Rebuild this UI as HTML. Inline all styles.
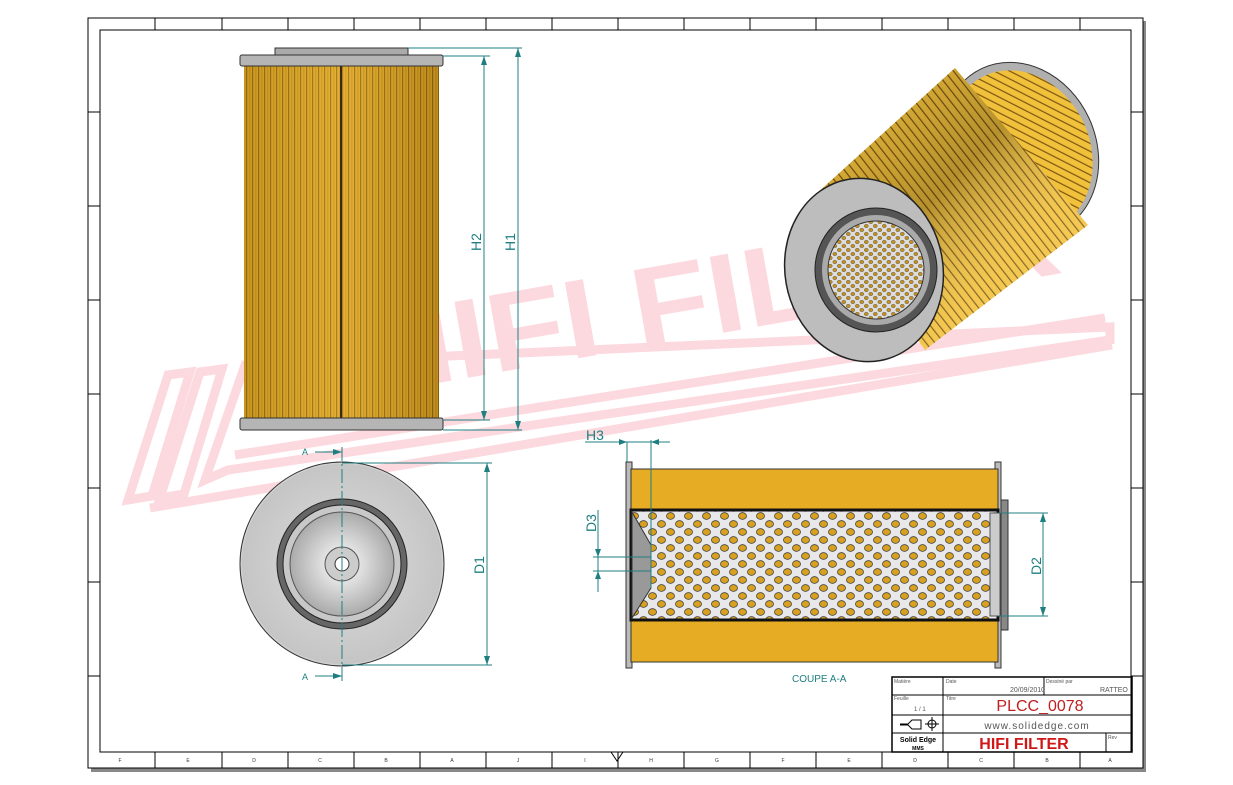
<!DOCTYPE html>
<html><head><style>body{margin:0;background:#fff}svg{display:block}text{font-family:"Liberation Sans",sans-serif}</style></head><body>
<svg width="1233" height="785" viewBox="0 0 1233 785">
<defs>
<pattern id="pl" width="6" height="10" patternUnits="userSpaceOnUse"><rect width="6" height="10" fill="#d9a52a"/><rect x="0" width="1.2" height="10" fill="#6b4a10"/><rect x="3" width="1.5" height="10" fill="#c08a1a"/></pattern>
<pattern id="pf" width="18" height="16" patternUnits="userSpaceOnUse"><rect width="18" height="16" fill="#e8e8ea"/><ellipse cx="4.5" cy="4" rx="4" ry="3.4" fill="#d8a020" stroke="#333" stroke-width=".7"/><ellipse cx="13.5" cy="12" rx="4" ry="3.4" fill="#d8a020" stroke="#333" stroke-width=".7"/></pattern>
<pattern id="pf2" width="9" height="8" patternUnits="userSpaceOnUse"><rect width="9" height="8" fill="#ddd"/><ellipse cx="2.3" cy="2" rx="2" ry="1.7" fill="#c8901a" stroke="#444" stroke-width=".4"/><ellipse cx="6.8" cy="6" rx="2" ry="1.7" fill="#c8901a" stroke="#444" stroke-width=".4"/></pattern>
<radialGradient id="mg" cx="0.5" cy="0.5" r="0.6"><stop offset="0" stop-color="#fff"/><stop offset="1" stop-color="#9a9a9a"/></radialGradient>
<linearGradient id="py" x1="0" x2="1"><stop offset="0" stop-color="#b88a18"/><stop offset=".5" stop-color="#f3c040"/><stop offset="1" stop-color="#a07010"/></linearGradient>
<pattern id="pl2" width="7" height="10" patternUnits="userSpaceOnUse" patternTransform="rotate(-38)"><rect width="7" height="10" fill="#f2c13c"/><rect width="1.2" height="10" fill="#7a5510"/></pattern>
<linearGradient id="bg3" x1="0" y1="0" x2="1" y2="1"><stop offset="0" stop-color="#000" stop-opacity=".0"/><stop offset=".45" stop-color="#000" stop-opacity=".25"/><stop offset=".7" stop-color="#fff" stop-opacity=".1"/><stop offset="1" stop-color="#fff" stop-opacity=".2"/></linearGradient>
</defs>
<rect x="91" y="21" width="1055" height="751" fill="#888"/>
<rect x="88" y="18" width="1055" height="750" fill="#fff" stroke="#000"/>
<rect x="100" y="30" width="1031" height="722" fill="none" stroke="#000"/>
<g stroke="#000" stroke-width="1">
<path d="M155 18v12M222 18v12M288 18v12M354 18v12M420 18v12M486 18v12M552 18v12M618 18v12M684 18v12M750 18v12M816 18v12M882 18v12M948 18v12M1014 18v12M1080 18v12"/>
<path d="M155 752v16M222 752v16M288 752v16M354 752v16M420 752v16M486 752v16M552 752v16M618 752v16M684 752v16M750 752v16M816 752v16M882 752v16M948 752v16M1014 752v16M1080 752v16"/>
<path d="M88 112h12M88 206h12M88 300h12M88 394h12M88 488h12M88 582h12M88 676h12M1131 112h12M1131 206h12M1131 300h12M1131 394h12M1131 488h12M1131 582h12M1131 676h12"/>
</g>
<g font-size="5" fill="#333" text-anchor="middle">
<text x="120" y="762">F</text><text x="188" y="762">E</text><text x="254" y="762">D</text><text x="320" y="762">C</text><text x="386" y="762">B</text><text x="452" y="762">A</text><text x="518" y="762">J</text><text x="585" y="762">I</text><text x="651" y="762">H</text><text x="717" y="762">G</text><text x="783" y="762">F</text><text x="849" y="762">E</text><text x="915" y="762">D</text><text x="981" y="762">C</text><text x="1047" y="762">B</text><text x="1110" y="762">A</text>
</g>
<path d="M611 752l6 9 6-9z" fill="none" stroke="#000"/>
<g fill="none" stroke="#fcd9df" stroke-width="9">
<polygon points="128,500 168,375 190,372 152,496"/>
<polygon points="160,498 200,372 222,369 184,494"/>
<polygon points="205,480 245,365 1110,327 1110,340 228,470"/>
<line x1="235" y1="455" x2="1105" y2="318"/>
<line x1="150" y1="508" x2="1112" y2="345"/>
</g>
<text x="370" y="395" font-size="112" font-weight="bold" font-family="Liberation Serif" transform="rotate(-10 370 395)" textLength="705" lengthAdjust="spacingAndGlyphs" fill="#fcd9df">HIFI FILTER</text>
<rect x="275" y="48" width="133" height="8" fill="#aaa" stroke="#333"/>
<rect x="244" y="66" width="195" height="352" fill="url(#pl)"/>
<rect x="244" y="66" width="195" height="352" fill="url(#py)" opacity=".45"/>
<line x1="341" y1="66" x2="341" y2="418" stroke="#3a2a05" stroke-width="2"/>
<rect x="240" y="55" width="203" height="11" rx="2" fill="#b5b5b5" stroke="#333"/>
<rect x="240" y="418" width="203" height="12" rx="2" fill="#b5b5b5" stroke="#333"/>
<g stroke="#1f7f80" fill="#1f7f80">
<line x1="408" y1="48" x2="522" y2="48"/><line x1="443" y1="430" x2="522" y2="430"/><line x1="443" y1="56" x2="490" y2="56"/><line x1="443" y1="420" x2="490" y2="420"/>
<line x1="518" y1="48" x2="518" y2="430"/><line x1="484" y1="56" x2="484" y2="420"/>
<path d="M518 48l-3 9h6zM518 430l-3-9h6zM484 56l-3 9h6zM484 420l-3-9h6z" stroke="none"/>
</g>
<g fill="#1f7f80" font-size="14"><text transform="translate(481 251) rotate(-90)">H2</text><text transform="translate(515 251) rotate(-90)">H1</text></g>
<circle cx="342" cy="564" r="102" fill="#d0d0d0" stroke="#333"/>
<circle cx="342" cy="564" r="100" fill="url(#mg)" opacity=".3"/>
<circle cx="342" cy="564" r="65" fill="#666" stroke="#222"/>
<circle cx="342" cy="564" r="59" fill="#c8c8c8" stroke="#222"/>
<circle cx="342" cy="564" r="52" fill="url(#mg)" stroke="#555"/>
<circle cx="342" cy="564" r="17" fill="#ccc" stroke="#555"/>
<circle cx="342" cy="564" r="7" fill="#fff" stroke="#333"/>
<g stroke="#1f7f80" fill="#1f7f80">
<line x1="342" y1="447" x2="342" y2="682" stroke-dasharray="14 3 2 3"/>
<line x1="315" y1="452" x2="342" y2="452"/><line x1="315" y1="676" x2="342" y2="676"/>
<path d="M342 452l-9-3v6zM342 676l-9-3v6z" stroke="none"/>
<line x1="342" y1="463" x2="492" y2="463"/><line x1="342" y1="665" x2="492" y2="665"/><line x1="487" y1="463" x2="487" y2="665"/>
<path d="M487 463l-3 9h6zM487 665l-3-9h6z" stroke="none"/>
</g>
<g fill="#1f7f80" font-size="9"><text x="302" y="455">A</text><text x="302" y="680">A</text></g>
<text transform="translate(484 574) rotate(-90)" fill="#1f7f80" font-size="14">D1</text>
<rect x="626" y="462" width="6" height="206" fill="#bbb" stroke="#333"/>
<rect x="995" y="462" width="6" height="206" fill="#bbb" stroke="#333"/>
<rect x="1001" y="500" width="7" height="130" fill="#888" stroke="#333"/>
<rect x="631" y="469" width="367" height="42" fill="#e6ad24" stroke="#333"/>
<rect x="631" y="619" width="367" height="43" fill="#e6ad24" stroke="#333"/>
<rect x="631" y="510" width="367" height="110" fill="url(#pf)"/>
<rect x="631" y="510" width="367" height="110" fill="none" stroke="#111" stroke-width="3"/>
<polygon points="632,512 651,545 651,588 632,618" fill="#999" stroke="#333"/>
<rect x="990" y="513" width="10" height="103" fill="#ccc" stroke="#555"/>
<g stroke="#1f7f80" fill="#1f7f80">
<line x1="627" y1="442" x2="627" y2="462"/><line x1="651" y1="440" x2="651" y2="588"/>
<line x1="585" y1="442" x2="670" y2="442"/><path d="M627 442l-8-3v6zM651 442l8-3v6z" stroke="none"/>
<line x1="593" y1="557" x2="651" y2="557"/><line x1="593" y1="571" x2="651" y2="571"/><line x1="598" y1="510" x2="598" y2="592"/>
<path d="M598 557l-3-8h6zM598 571l-3 8h6z" stroke="none"/>
<line x1="1000" y1="513" x2="1048" y2="513"/><line x1="1000" y1="616" x2="1048" y2="616"/><line x1="1043" y1="513" x2="1043" y2="616"/>
<path d="M1043 513l-3 9h6zM1043 616l-3-9h6z" stroke="none"/>
</g>
<g fill="#1f7f80" font-size="14"><text x="586" y="440">H3</text><text transform="translate(596 532) rotate(-90)">D3</text><text transform="translate(1041 575) rotate(-90)">D2</text></g>
<text x="792" y="682" fill="#1f7f80" font-size="10">COUPE A-A</text>
<ellipse cx="1020" cy="150" rx="76" ry="90" fill="#b0b0b0" stroke="#333" transform="rotate(-25 1020 150)"/>
<ellipse cx="1020" cy="152" rx="70" ry="84" fill="url(#pl2)" transform="rotate(-25 1020 152)"/>
<polygon points="815,195 955,68 1088,225 925,350" fill="url(#pl2)"/>
<polygon points="815,195 955,68 1088,225 925,350" fill="url(#bg3)"/>
<ellipse cx="864" cy="270" rx="79" ry="92" fill="#bdbdbd" stroke="#222" stroke-width="1.5" transform="rotate(-10 864 270)"/>
<ellipse cx="876" cy="270" rx="61" ry="62" fill="#555" stroke="#222"/>
<ellipse cx="876" cy="270" rx="54" ry="55" fill="#aaa"/>
<ellipse cx="876" cy="270" rx="48" ry="49" fill="url(#pf2)" stroke="#333"/>
<g stroke="#000" fill="none">
<rect x="892" y="677" width="240" height="75" stroke-width="1.5"/>
<path d="M892 695h240M892 715h240M892 733h240M943 677v75M1044 677v18M1106 733v19"/>
</g>
<g font-size="5" fill="#555"><text x="894" y="683">Matière</text><text x="946" y="683">Date</text><text x="1046" y="683">Dessiné par</text><text x="894" y="700">Feuille</text><text x="946" y="700">Titre</text><text x="1108" y="739">Rev</text></g>
<text x="1010" y="692" font-size="7" fill="#555">20/09/2010</text><text x="1100" y="692" font-size="7" fill="#555">RATTEO</text>
<text x="914" y="711" font-size="6" fill="#555">1 / 1</text>
<text x="1040" y="711" font-size="16" fill="#c02020" text-anchor="middle">PLCC_0078</text>
<text x="1037" y="729" font-size="10" fill="#555" text-anchor="middle" letter-spacing="1">www.solidedge.com</text>
<text x="1024" y="749" font-size="16" font-weight="bold" fill="#d01818" text-anchor="middle">HIFI FILTER</text>
<text x="918" y="742" font-size="7" font-weight="bold" text-anchor="middle">Solid Edge</text>
<text x="918" y="750" font-size="5" font-weight="bold" text-anchor="middle">MMS</text>
<g stroke="#000" fill="none"><path d="M900 724h8l4-4h9v9h-9l-4-4h-8"/><circle cx="932" cy="724" r="4"/><path d="M925 724h14M932 717v14"/></g>
</svg>
</body></html>
